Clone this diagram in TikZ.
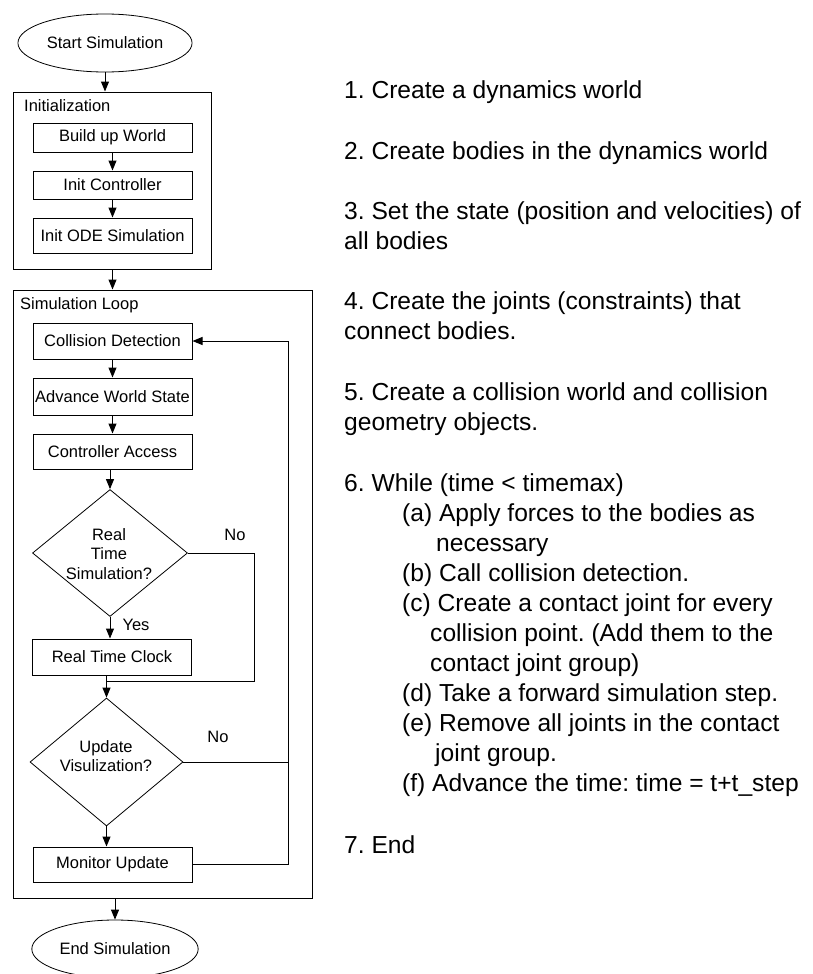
\documentclass[tikz,border=0pt]{standalone}
\usepackage{fontspec}
\setmainfont{Liberation Sans}
\usetikzlibrary{shapes.geometric,arrows.meta}
\newcommand\flowfont{\fontsize{16.5}{19.5}\selectfont}
\newcommand\stepfont{\fontsize{24.6}{30}\selectfont}
\frenchspacing

\begin{document}
\begin{tikzpicture}[x=1pt,y=-1pt,
		box/.style={draw,line width=1pt,inner xsep=1pt,minimum width=159pt,font=\flowfont},
		group/.style={draw,line width=1pt},
		terminal/.style={draw,ellipse,line width=0.8pt,minimum height=58pt,font=\flowfont},
		decision/.style={draw,diamond,line width=0.8pt,inner sep=0pt},
		flowtext/.style={font=\flowfont,align=center,inner sep=0pt},
		steptext/.style={font=\stepfont,align=left,anchor=base west,inner sep=0pt},
		arr/.style={-{Triangle[length=10pt,width=8pt]},line width=1pt}]
		\useasboundingbox (0,0) rectangle (812,974);
		\node[terminal,minimum width=168pt] (start) at (105,43) {Start Simulation};
		\node[group,minimum width=198pt,minimum height=177pt] (init) at (112,180.5) {};
		\node[flowtext,anchor=base west] (initlabel) at (24,111) {Initialization};
		\node[box,minimum height=29pt] (build) at (112.5,137.5) {Build up World};
		\node[box,minimum height=28pt] (ictrl) at (112.5,185) {Init Controller};
		\node[box,minimum height=35pt] (iode) at (112.5,235.5) {Init ODE Simulation};
		\node[group,minimum width=299pt,minimum height=608pt] (loop) at (162.5,594) {};
		\node[flowtext,anchor=base west] (looplabel) at (20,309) {Simulation Loop};
		\node[box,minimum height=36pt] (coll) at (112.5,341) {Collision Detection};
		\node[box,minimum height=37pt] (adv) at (112.5,396.5) {Advance World State};
		\node[box,minimum height=35pt] (ctrl) at (112.5,451.5) {Controller Access};
		\node[decision,minimum width=155pt,minimum height=127pt] (rts) at (110,553) {};
		\node[flowtext] (rtstext) at (109,554) {Real\\Time\\Simulation?};
		\node[box,minimum height=36pt] (rtc) at (112,657) {Real Time Clock};
		\node[decision,minimum width=153pt,minimum height=128pt] (upd) at (106.5,762) {};
		\node[flowtext] (updtext) at (106,756) {Update\\Visulization?};
		\node[box,minimum height=35pt] (mon) at (112.5,864.5) {Monitor Update};
		\node[terminal,minimum width=166pt] (done) at (115,949) {End Simulation};
		\node[flowtext] (no1) at (235,535) {No};
		\node[flowtext] (yes) at (136,625) {Yes};
		\node[flowtext] (no2) at (218,737) {No};
		\coordinate (nojoin) at (254,681);
		\coordinate (back) at (288,341);
		\draw[arr] (start) -- (start |- init.north);
		\draw[arr] (build) -- (ictrl);
		\draw[arr] (ictrl) -- (iode);
		\draw[arr] (iode |- init.south) -- (iode |- loop.north);
		\draw[arr] (coll) -- (adv);
		\draw[arr] (adv) -- (ctrl);
		\draw[arr] (ctrl.south -| rts) -- (rts.north);
		\draw[arr] (rts) -- (rts |- rtc.north);
		\draw[arr] (rtc.south -| upd) -- (upd.north);
		\draw[line width=1pt] (rts.east) -| (nojoin) -- (nojoin -| upd);
		\draw[arr] (upd) -- (upd |- mon.north);
		\draw[line width=1pt] (upd.east) -- (upd.east -| back);
		\draw[arr] (mon.east) -| (back) -- (coll.east);
		\draw[arr] (done |- loop.south) -- (done.north);
		\node[steptext] (step1) at (344,99) {1. Create a dynamics world};
		\node[steptext] (step2) at (344,159) {2. Create bodies in the dynamics world};
		\node[steptext] (step3) at (344,249) {3. Set the state (position and velocities) of\\all bodies};
		\node[steptext] (step4) at (344,339) {4. Create the joints (constraints) that\\connect bodies.};
		\node[steptext] (step5) at (344,430) {5. Create a collision world and collision\\geometry objects.};
		\node[steptext] (step6) at (344,791) {6. While (time < timemax)\\
			\hspace*{58pt}(a) Apply forces to the bodies as\\
			\hspace*{92pt}necessary\\
			\hspace*{58pt}(b) Call collision detection.\\
			\hspace*{58pt}(c) Create a contact joint for every\\
			\hspace*{86pt}collision point. (Add them to the\\
			\hspace*{86pt}contact joint group)\\
			\hspace*{58pt}(d) Take a forward simulation step.\\
			\hspace*{58pt}(e) Remove all joints in the contact\\
			\hspace*{91pt}joint group.\\
			\hspace*{58pt}(f) Advance the time: time = t+t\_step};
		\node[steptext] (step7) at (344,853) {7. End};
\end{tikzpicture}
\end{document}
